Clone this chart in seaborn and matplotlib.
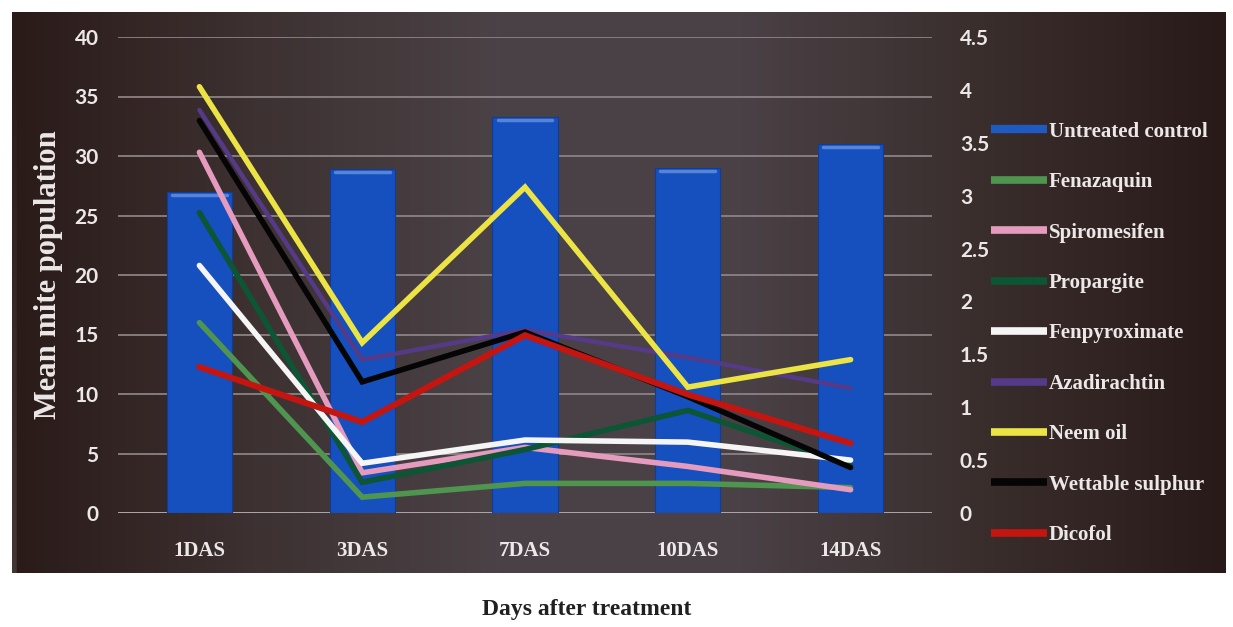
import numpy as np
import pandas as pd
import matplotlib
matplotlib.use("Agg")
import matplotlib.pyplot as plt
from matplotlib.lines import Line2D
from matplotlib.colors import LinearSegmentedColormap
import seaborn as sns

# ---- data -------------------------------------------------------------
days = ["1DAS", "3DAS", "7DAS", "10DAS", "14DAS"]
untreated_control = [27.0, 28.9, 33.3, 29.0, 31.0]

fenazaquin     = [1.80, 0.15, 0.28, 0.28, 0.24]
spiromesifen   = [3.41, 0.38, 0.62, 0.44, 0.22]
propargite     = [2.84, 0.29, 0.60, 0.97, 0.45]
fenpyroximate  = [2.34, 0.47, 0.69, 0.67, 0.50]
azadirachtin   = [3.81, 1.45, 1.73, 1.47, 1.18]
neem_oil       = [4.03, 1.61, 3.08, 1.19, 1.45]
wettable_sulph = [3.71, 1.24, 1.71, 1.10, 0.43]
dicofol        = [1.38, 0.86, 1.68, 1.12, 0.66]

treatments = ["Fenazaquin", "Spiromesifen", "Propargite", "Fenpyroximate",
              "Azadirachtin", "Neem oil", "Wettable sulphur", "Dicofol"]
series = [fenazaquin, spiromesifen, propargite, fenpyroximate,
          azadirachtin, neem_oil, wettable_sulph, dicofol]

# ---- styling ----------------------------------------------------------
bar_color = "#164fbe"
line_colors = {
    "Fenazaquin": "#4f9550",
    "Spiromesifen": "#e59bbd",
    "Propargite": "#0c5535",
    "Fenpyroximate": "#f5f5f5",
    "Azadirachtin": "#553a88",
    "Neem oil": "#ece445",
    "Wettable sulphur": "#050505",
    "Dicofol": "#c41510",
}
line_widths = {t: 4.0 for t in treatments}
line_widths["Azadirachtin"] = 3.2
line_widths["Dicofol"] = 4.4

text_col = "#ece8e8"
grid_col = "#8a8284"
serif = ["Liberation Serif", "DejaVu Serif"]
sans = ["Lato", "DejaVu Sans"]

sns.set_theme(style="white")
plt.rcParams["font.family"] = sans

W, H = 1233, 627
fig = plt.figure(figsize=(W / 100, H / 100), dpi=100)
fig.patch.set_facecolor("white")

# dark panel behind the chart with a soft horizontal shading
px0, px1, py0, py1 = 12, 1226, 12, 573
bg_ax = fig.add_axes([px0 / W, 1 - py1 / H, (px1 - px0) / W, (py1 - py0) / H])
cmap = LinearSegmentedColormap.from_list(
    "panel", ["#2a1b19", "#3d3131", "#4b4247", "#4a4146", "#3a2e2d", "#281a18"])
grad = np.tile(np.linspace(0, 1, 256), (32, 1))
yfade = np.linspace(0.0, 0.12, 32)[:, None]
bg_ax.imshow(np.clip(grad, 0, 1), aspect="auto", cmap=cmap,
             extent=[0, 1, 0, 1])
bg_ax.imshow(np.zeros((32, 256)), aspect="auto", cmap="Greys",
             alpha=yfade, extent=[0, 1, 0, 1], vmin=0, vmax=1)
bg_ax.set_axis_off()

# main plotting area
ax_l, ax_r, ax_t, ax_b = 118, 932, 37, 513
ax = fig.add_axes([ax_l / W, 1 - ax_b / H, (ax_r - ax_l) / W, (ax_b - ax_t) / H])
ax.set_facecolor("none")

bars_df = pd.DataFrame({"day": days, "count": untreated_control})
sns.barplot(data=bars_df, x="day", y="count", order=days, color=bar_color,
            width=0.4, saturation=1, edgecolor="#0f3c98", linewidth=0.8,
            ax=ax, zorder=2)
for p in ax.patches:
    # lighter rim along the top of each column
    x, w, h = p.get_x(), p.get_width(), p.get_height()
    ax.plot([x + w * 0.08, x + w * 0.92], [h - 0.25, h - 0.25],
            color="#5584d8", lw=2.5, zorder=3, solid_capstyle="round")

ax.set_ylim(0, 40)
ax.set_xlim(-0.5, 4.5)
ax.set_yticks(np.arange(0, 41, 5))
ax.yaxis.grid(True, color=grid_col, lw=1.3, zorder=0)
ax.set_axisbelow(True)
for s in ax.spines.values():
    s.set_visible(False)
ax.axhline(0, color="#b8b2b8", lw=1.8, zorder=1)
ax.tick_params(axis="y", length=0, pad=14, labelcolor=text_col, labelsize=15)
ax.tick_params(axis="x", length=0, pad=20, labelcolor=text_col, labelsize=15)
for lab in ax.get_yticklabels():
    lab.set_fontweight("bold")
    lab.set_family(sans)
for lab in ax.get_xticklabels():
    lab.set_fontweight("bold")
    lab.set_family(serif)
ax.set_xlabel("")
ax.set_ylabel("Mean mite population", color=text_col, fontsize=22,
              fontweight="bold", family=serif, labelpad=8)

# treatments on the secondary axis
ax2 = ax.twinx()
ax2.set_facecolor("none")
lines_df = pd.DataFrame(
    [(t, d, v) for t, vals in zip(treatments, series) for d, v in zip(days, vals)],
    columns=["treatment", "day", "value"])
for t in treatments:
    sub = lines_df[lines_df["treatment"] == t]
    sns.lineplot(data=sub, x="day", y="value", color=line_colors[t],
                 lw=line_widths[t], sort=False, ax=ax2, legend=False,
                 solid_joinstyle="miter")
ax2.set_ylim(0, 4.5)
ax2.set_xlim(-0.5, 4.5)
ax2.set_yticks(np.arange(0, 4.51, 0.5))
ax2.set_yticklabels(["0", "0.5", "1", "1.5", "2", "2.5", "3", "3.5", "4", "4.5"])
ax2.set_ylabel("")
ax2.set_xlabel("")
for s in ax2.spines.values():
    s.set_visible(False)
ax2.grid(False)
ax2.tick_params(axis="y", length=0, pad=20, labelcolor=text_col, labelsize=15)
for lab in ax2.get_yticklabels():
    lab.set_fontweight("bold")
    lab.set_family(sans)

# legend
handles = [Line2D([], [], color="#1f5ac0", lw=6, solid_capstyle="butt")]
labels = ["Untreated control"]
for t in treatments:
    handles.append(Line2D([], [], color=line_colors[t], lw=5.5,
                          solid_capstyle="butt"))
    labels.append(t)
leg = fig.legend(handles, labels, loc="upper left",
                 bbox_to_anchor=(972 / W, 1 - 103 / H), frameon=False,
                 handlelength=2.7, handletextpad=0.1, labelspacing=1.46,
                 prop={"family": serif, "weight": "bold", "size": 15})
for txt in leg.get_texts():
    txt.set_color(text_col)

fig.text(587 / W, 1 - 610 / H, "Days after treatment", ha="center",
         va="center", fontsize=17, fontweight="bold", family=serif,
         color="#202020")

fig.savefig("out.png", dpi=100, facecolor=fig.get_facecolor())
